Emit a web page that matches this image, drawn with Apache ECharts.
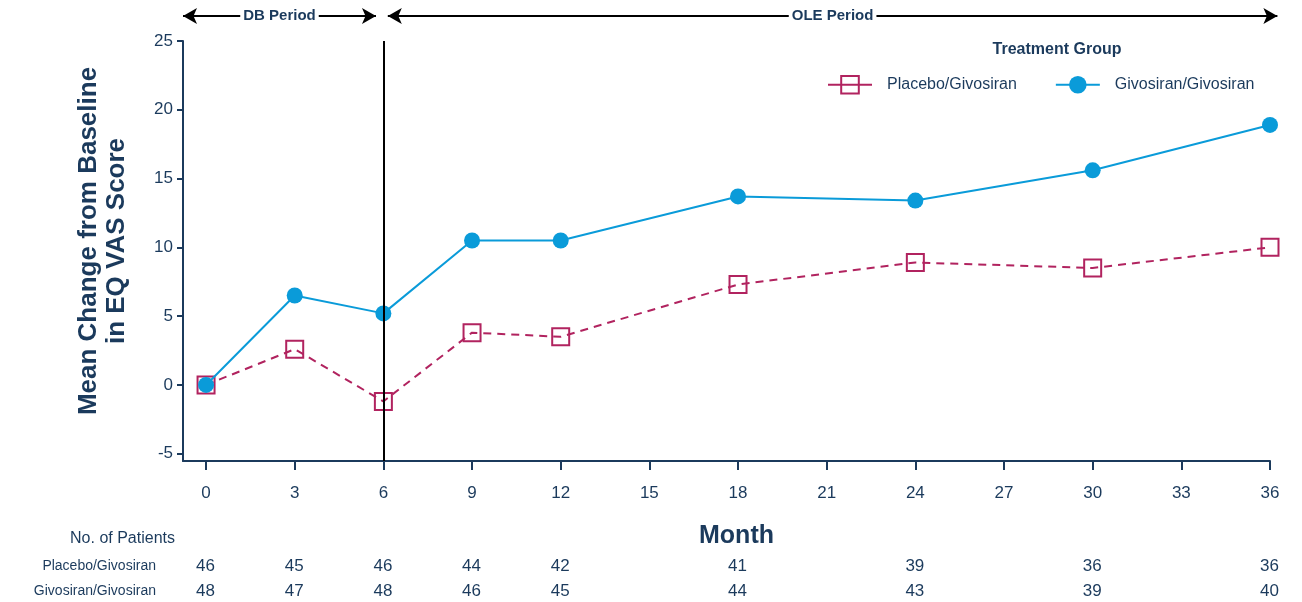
<!DOCTYPE html>
<html>
<head>
<meta charset="utf-8">
<script src="https://cdn.jsdelivr.net/npm/echarts@6/dist/echarts.min.js"></script>
<style>
  html, body { margin: 0; padding: 0; background: #fff; }
  #chart { width: 1302px; height: 602px; }
</style>
</head>
<body>
<div id="chart"></div>
<script>
// data
const months = [0, 3, 6, 9, 12, 18, 24, 30, 36]
const placebo = [0, 2.6, -1.2, 3.8, 3.5, 7.3, 8.9, 8.5, 10.0]
const givosiran = [0, 6.5, 5.2, 10.5, 10.5, 13.7, 13.4, 15.6, 18.9]
const nPlacebo = [46, 45, 46, 44, 42, 41, 39, 36, 36]
const nGivosiran = [48, 47, 48, 46, 45, 44, 43, 39, 40]
const xTicks = [0, 3, 6, 9, 12, 15, 18, 21, 24, 27, 30, 33, 36]
const yTicks = [-5, 0, 5, 10, 15, 20, 25]

const navy = '#1b3a5c'
const blue = '#0a9bd9'
const plum = '#b1235f'
const font = 'Liberation Sans, Arial, sans-serif'
const narrow = 'Liberation Sans Narrow, Arial Narrow, Liberation Sans, sans-serif'

const chart = echarts.init(document.getElementById('chart'))

const X_MIN = -0.78
const X_MAX = 36

const pairs = (ys) => months.map((m, i) => [m, ys[i]])
const countPoints = (ns) => months.map((m, i) => [m, 0.5, ns[i]])

const hiddenX = (idx, max) => ({
    gridIndex: idx, type: 'value', min: X_MIN, max: max, show: false
})
const hiddenY = (idx) => ({
    gridIndex: idx, type: 'value', min: 0, max: 1, show: false
})

// patient counts under the axis, placed by the same month scale
const countSeries = (idx, ns) => ({
    type: 'scatter',
    xAxisIndex: idx,
    yAxisIndex: idx,
    data: countPoints(ns),
    symbolSize: 1,
    itemStyle: { color: 'rgba(0,0,0,0)', opacity: 1 },
    silent: true,
    label: {
        show: true,
        position: [0, 0],
        align: 'center',
        verticalAlign: 'middle',
        formatter: (p) => String(p.value[2]),
        color: navy,
        opacity: 1,
        textBorderWidth: 0,
        fontSize: 17,
        fontFamily: font
    }
})

const periodLine = (from, to, text) => [
    { coord: [from, 0.5], label: { formatter: text } },
    { coord: [to, 0.5] }
]

const option = {
    animation: false,
    backgroundColor: '#fff',
    title: {
        text: 'Treatment Group',
        left: 1052,
        textAlign: 'center',
        top: 37,
        textStyle: { color: navy, fontSize: 16, fontWeight: 'bold', fontFamily: font }
    },
    legend: {
        top: 70,
        left: 822,
        itemWidth: 44,
        itemHeight: 22,
        itemGap: 38,
        textStyle: { color: navy, fontSize: 16, fontFamily: font, padding: [0, 0, 0, 10] },
        data: [
            { name: 'Placebo/Givosiran', lineStyle: { type: 'solid' } },
            { name: 'Givosiran/Givosiran' }
        ]
    },
    grid: [
        { left: 183, top: 41, width: 1087, height: 420 },
        { left: 183, top: 6, width: 1099, height: 20 },
        { left: 183, top: 557, width: 1087, height: 20 },
        { left: 183, top: 582, width: 1087, height: 20 }
    ],
    xAxis: [
        {
            gridIndex: 0,
            type: 'value',
            min: X_MIN,
            max: X_MAX,
            name: 'Month',
            nameLocation: 'middle',
            nameGap: 63,
            nameTextStyle: {
                color: navy, fontSize: 25, fontWeight: 'bold', fontFamily: font, padding: [0, 0, 0, 20]
            },
            axisLine: { onZero: false, lineStyle: { color: navy, width: 2 } },
            axisTick: {
                show: true,
                customValues: xTicks,
                length: 9,
                lineStyle: { color: navy, width: 2 }
            },
            axisLabel: {
                customValues: xTicks,
                color: navy,
                fontSize: 17,
                fontFamily: font,
                margin: 24
            },
            splitLine: { show: false }
        },
        hiddenX(1, X_MIN + 1099 * (X_MAX - X_MIN) / 1087),
        hiddenX(2, X_MAX),
        hiddenX(3, X_MAX)
    ],
    yAxis: [
        {
            gridIndex: 0,
            type: 'value',
            min: -5.53,
            max: 25,
            name: 'Mean Change from Baseline\nin EQ VAS Score',
            nameLocation: 'middle',
            nameGap: 52,
            nameTextStyle: {
                color: navy, fontSize: 26, fontWeight: 'bold', fontFamily: font, lineHeight: 28,
                padding: [0, 0, 0, 20]
            },
            axisLine: { show: true, onZero: false, lineStyle: { color: navy, width: 2 } },
            axisTick: {
                show: true,
                customValues: yTicks,
                length: 6,
                lineStyle: { color: navy, width: 2 }
            },
            axisLabel: {
                customValues: yTicks,
                color: navy,
                fontSize: 17,
                fontFamily: font,
                margin: 10
            },
            splitLine: { show: false }
        },
        hiddenY(1),
        hiddenY(2),
        hiddenY(3)
    ],
    series: [
        {
            name: 'Placebo/Givosiran',
            type: 'line',
            data: pairs(placebo),
            symbol: 'rect',
            symbolSize: 17,
            itemStyle: { color: 'rgba(0,0,0,0)', borderColor: plum, borderWidth: 2 },
            lineStyle: { color: plum, width: 2, type: [8, 6] },
            z: 2
        },
        {
            name: 'Givosiran/Givosiran',
            type: 'line',
            data: pairs(givosiran),
            symbol: 'circle',
            symbolSize: 16,
            itemStyle: { color: blue },
            lineStyle: { color: blue, width: 2 },
            z: 3,
            markLine: {
                silent: true,
                symbol: 'none',
                label: { show: false },
                lineStyle: { color: '#000', width: 2, type: 'solid' },
                data: [{ xAxis: 6 }]
            }
        },
        {
            // period arrows along the top
            type: 'line',
            xAxisIndex: 1,
            yAxisIndex: 1,
            data: [],
            silent: true,
            markLine: {
                symbol: ['arrow', 'arrow'],
                symbolSize: [12, 14],
                lineStyle: { color: '#000', width: 2, type: 'solid' },
                label: {
                    show: true,
                    position: 'insideMiddle',
                    distance: 0,
                    color: navy,
                    fontSize: 15,
                    fontWeight: 'bold',
                    fontFamily: font,
                    backgroundColor: '#fff',
                    padding: [1, 3]
                },
                data: [
                    periodLine(X_MIN, 5.75, 'DB Period'),
                    periodLine(6.15, 36.25, 'OLE Period')
                ]
            }
        },
        countSeries(2, nPlacebo),
        countSeries(3, nGivosiran)
    ],
    graphic: [
        {
            type: 'text', right: 1302 - 175, top: 531,
            style: { text: 'No. of Patients', fill: navy, fontSize: 16, fontFamily: font, align: 'right' }
        },
        {
            type: 'text', right: 1302 - 156, top: 559,
            style: { text: 'Placebo/Givosiran', fill: navy, fontSize: 14, fontFamily: narrow }
        },
        {
            type: 'text', right: 1302 - 156, top: 584,
            style: { text: 'Givosiran/Givosiran', fill: navy, fontSize: 14, fontFamily: narrow }
        }
    ]
}

chart.setOption(option)

window.addEventListener('resize', function () {
    chart.resize()
})
</script>
</body>
</html>
